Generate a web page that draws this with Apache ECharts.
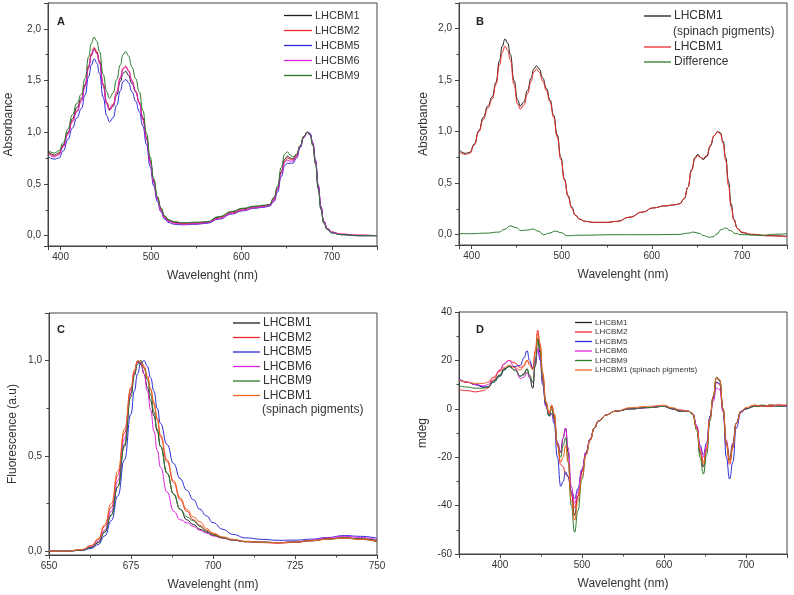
<!DOCTYPE html>
<html style="height: 100%">
<head>
  <meta charset="utf-8">
  <script src="https://cdn.jsdelivr.net/npm/echarts@6/dist/echarts.min.js"></script>
</head>
<body style="height: 100%; margin: 0; background: #fff">
  <div id="container" style="width: 794px; height: 595px"></div>
  <script type="text/javascript">
    // ---- panel A : absorption spectra ----
    var A_WL = [387, 393, 398, 403, 408, 413, 418, 423, 427, 431, 434, 437, 440, 443, 447, 451, 454, 458, 462, 466,
      469, 472, 475, 479, 483, 487, 491, 495, 499, 503, 507, 511, 515, 520, 526, 535, 550, 562, 575, 590,
      601, 615, 625, 631, 636, 640, 644, 648, 651, 654, 657, 661, 665, 669, 673, 676, 679, 682, 685, 688,
      691, 695, 700, 710, 730, 750];
    var A_M1 = [0.81, 0.78, 0.80, 0.88, 1.00, 1.13, 1.24, 1.33, 1.46, 1.64, 1.75, 1.81, 1.77, 1.68, 1.46, 1.28, 1.22, 1.25, 1.36, 1.49,
      1.57, 1.59, 1.55, 1.47, 1.39, 1.29, 1.14, 0.95, 0.73, 0.53, 0.37, 0.26, 0.19, 0.15, 0.13, 0.12, 0.125, 0.13, 0.18, 0.23,
      0.26, 0.28, 0.29, 0.30, 0.36, 0.46, 0.62, 0.74, 0.77, 0.75, 0.74, 0.78, 0.87, 0.96, 1.00, 0.98, 0.88, 0.70, 0.46, 0.26,
      0.13, 0.06, 0.03, 0.01, 0.0, 0.0];
    var A_M2 = [0.80, 0.77, 0.79, 0.87, 0.99, 1.11, 1.21, 1.31, 1.45, 1.64, 1.76, 1.82, 1.78, 1.69, 1.47, 1.29, 1.23, 1.27, 1.39, 1.53,
      1.62, 1.64, 1.60, 1.50, 1.40, 1.29, 1.13, 0.94, 0.72, 0.52, 0.36, 0.25, 0.18, 0.14, 0.125, 0.115, 0.12, 0.13, 0.17, 0.22,
      0.25, 0.275, 0.285, 0.295, 0.35, 0.45, 0.61, 0.72, 0.75, 0.74, 0.73, 0.77, 0.86, 0.96, 1.00, 0.98, 0.89, 0.72, 0.48, 0.28,
      0.14, 0.07, 0.035, 0.015, 0.005, 0.0];
    var A_M5 = [0.76, 0.74, 0.75, 0.82, 0.93, 1.04, 1.14, 1.23, 1.36, 1.54, 1.65, 1.71, 1.67, 1.57, 1.34, 1.16, 1.10, 1.14, 1.26, 1.40,
      1.49, 1.51, 1.48, 1.39, 1.30, 1.20, 1.06, 0.88, 0.67, 0.48, 0.33, 0.23, 0.16, 0.125, 0.11, 0.105, 0.11, 0.12, 0.16, 0.21,
      0.24, 0.265, 0.275, 0.285, 0.33, 0.42, 0.57, 0.68, 0.70, 0.70, 0.70, 0.75, 0.85, 0.95, 1.00, 0.99, 0.90, 0.73, 0.49, 0.28,
      0.14, 0.07, 0.03, 0.01, 0.0, 0.0];
    var A_M6 = [0.79, 0.76, 0.78, 0.86, 0.98, 1.10, 1.20, 1.30, 1.44, 1.62, 1.74, 1.80, 1.76, 1.67, 1.45, 1.27, 1.21, 1.26, 1.38, 1.52,
      1.61, 1.63, 1.59, 1.49, 1.39, 1.28, 1.12, 0.93, 0.71, 0.51, 0.35, 0.24, 0.17, 0.135, 0.12, 0.11, 0.115, 0.125, 0.165, 0.215,
      0.245, 0.27, 0.28, 0.29, 0.34, 0.44, 0.60, 0.71, 0.73, 0.72, 0.72, 0.76, 0.86, 0.95, 1.00, 0.98, 0.89, 0.72, 0.48, 0.28,
      0.14, 0.07, 0.035, 0.015, 0.005, 0.0];
    var A_M9 = [0.82, 0.80, 0.82, 0.90, 1.03, 1.17, 1.28, 1.37, 1.52, 1.73, 1.86, 1.92, 1.88, 1.78, 1.56, 1.39, 1.33, 1.38, 1.51, 1.65,
      1.75, 1.78, 1.74, 1.63, 1.52, 1.39, 1.21, 0.99, 0.76, 0.55, 0.38, 0.27, 0.19, 0.15, 0.135, 0.125, 0.13, 0.135, 0.185, 0.235,
      0.265, 0.285, 0.295, 0.30, 0.37, 0.48, 0.66, 0.79, 0.81, 0.78, 0.76, 0.79, 0.87, 0.96, 1.00, 0.97, 0.87, 0.69, 0.45, 0.25,
      0.12, 0.06, 0.025, 0.01, 0.0, 0.0];

    // ---- panel B : spinach pigments vs LHCBM1 (same wavelengths as A) ----
    var B_SPIN = [0.82, 0.79, 0.80, 0.88, 1.01, 1.14, 1.25, 1.34, 1.48, 1.69, 1.83, 1.90, 1.86, 1.75, 1.50, 1.31, 1.25, 1.29, 1.40, 1.52,
      1.61, 1.64, 1.61, 1.52, 1.42, 1.31, 1.16, 0.97, 0.75, 0.54, 0.38, 0.27, 0.19, 0.15, 0.13, 0.12, 0.12, 0.13, 0.17, 0.22,
      0.26, 0.28, 0.29, 0.30, 0.35, 0.46, 0.63, 0.75, 0.78, 0.75, 0.73, 0.76, 0.86, 0.96, 1.00, 0.99, 0.91, 0.75, 0.52, 0.30,
      0.15, 0.06, 0.02, 0.0, -0.01, -0.015];
    var B_M1 = [0.80, 0.78, 0.79, 0.87, 1.00, 1.12, 1.23, 1.32, 1.46, 1.65, 1.77, 1.83, 1.79, 1.70, 1.46, 1.27, 1.22, 1.26, 1.37, 1.49,
      1.58, 1.61, 1.58, 1.49, 1.40, 1.29, 1.14, 0.95, 0.73, 0.53, 0.37, 0.26, 0.19, 0.15, 0.13, 0.12, 0.12, 0.13, 0.17, 0.22,
      0.26, 0.28, 0.29, 0.30, 0.35, 0.46, 0.62, 0.74, 0.77, 0.75, 0.74, 0.77, 0.87, 0.96, 1.00, 0.98, 0.89, 0.72, 0.48, 0.27,
      0.14, 0.06, 0.025, 0.005, -0.01, -0.02];
    var DIFF_WL = [387, 400, 415, 430, 436, 443, 449, 455, 462, 468, 474, 480, 486, 493, 499, 506, 520, 560, 600, 630,
      640, 646, 652, 658, 664, 668, 672, 677, 682, 687, 693, 700, 720, 740, 750];
    var DIFF = [0.01, 0.01, 0.015, 0.025, 0.05, 0.085, 0.07, 0.04, 0.045, 0.055, 0.035, 0.0, 0.015, 0.035, 0.02, -0.01, -0.005, 0.0, 0.0, 0.003,
      0.015, 0.025, 0.015, -0.01, -0.025, -0.02, 0.005, 0.05, 0.065, 0.04, 0.01, 0.0, -0.005, 0.005, 0.01];

    // ---- panel C : fluorescence ----
    var C_WL = [650, 655, 660, 663, 665, 667, 669, 671, 673, 675, 676, 677, 678, 679, 680, 681, 682, 683, 684, 686,
      688, 690, 692, 694, 696, 698, 700, 703, 706, 710, 715, 720, 725, 730, 735, 740, 745, 750];
    var C_M1 = [0.0, 0.0, 0.005, 0.02, 0.045, 0.10, 0.19, 0.34, 0.55, 0.83, 0.93, 1.0, 0.98, 0.93, 0.86, 0.79, 0.71, 0.63, 0.55, 0.41,
      0.30, 0.22, 0.165, 0.14, 0.115, 0.10, 0.085, 0.07, 0.06, 0.05, 0.048, 0.045, 0.048, 0.055, 0.065, 0.07, 0.063, 0.05];
    var C_M2 = [0.0, 0.0, 0.008, 0.03, 0.06, 0.13, 0.23, 0.40, 0.62, 0.85, 0.94, 0.99, 1.0, 0.97, 0.92, 0.85, 0.77, 0.69, 0.60, 0.47,
      0.36, 0.27, 0.21, 0.165, 0.135, 0.11, 0.09, 0.07, 0.058, 0.05, 0.045, 0.042, 0.046, 0.055, 0.065, 0.07, 0.065, 0.055];
    var C_M5 = [0.0, 0.0, 0.004, 0.015, 0.035, 0.08, 0.16, 0.29, 0.48, 0.72, 0.84, 0.93, 0.99, 1.0, 0.97, 0.91, 0.84, 0.75, 0.67, 0.56,
      0.46, 0.38, 0.32, 0.27, 0.22, 0.185, 0.15, 0.115, 0.088, 0.07, 0.062, 0.057, 0.058, 0.063, 0.072, 0.082, 0.078, 0.068];
    var C_M6 = [0.0, 0.0, 0.006, 0.025, 0.05, 0.11, 0.21, 0.37, 0.59, 0.83, 0.93, 0.99, 0.99, 0.93, 0.84, 0.74, 0.63, 0.53, 0.44, 0.31,
      0.21, 0.165, 0.15, 0.13, 0.11, 0.095, 0.08, 0.068, 0.058, 0.05, 0.046, 0.045, 0.05, 0.058, 0.07, 0.078, 0.072, 0.06];
    var C_M9 = [0.0, 0.0, 0.005, 0.02, 0.045, 0.10, 0.19, 0.34, 0.56, 0.81, 0.92, 0.98, 1.0, 0.96, 0.90, 0.82, 0.73, 0.64, 0.55, 0.41,
      0.30, 0.22, 0.18, 0.16, 0.13, 0.105, 0.085, 0.07, 0.058, 0.05, 0.047, 0.045, 0.048, 0.055, 0.063, 0.07, 0.065, 0.055];
    var C_SPIN = [0.0, 0.0, 0.008, 0.03, 0.065, 0.14, 0.25, 0.42, 0.64, 0.86, 0.95, 1.0, 0.99, 0.96, 0.91, 0.85, 0.78, 0.70, 0.61, 0.48,
      0.37, 0.28, 0.22, 0.18, 0.155, 0.12, 0.095, 0.075, 0.062, 0.052, 0.047, 0.045, 0.048, 0.055, 0.063, 0.068, 0.062, 0.05];

    // ---- panel D : circular dichroism ----
    var D_WL = [350, 360, 370, 380, 385, 392, 400, 405, 411, 418, 425, 429, 433, 436, 440, 443, 446, 449, 452, 456,
      460, 463, 466, 470, 474, 477, 480, 483, 487, 491, 495, 500, 505, 510, 515, 520, 530, 540, 560, 580,
      600, 610, 620, 630, 635, 640, 644, 648, 652, 656, 660, 664, 668, 672, 676, 680, 684, 688, 694, 700,
      710, 720, 730, 740, 750];
    var D_M1 = [12, 11, 10, 9, 9, 11.5, 14, 16.5, 17.5, 16, 13.5, 14.5, 16.5, 13, 8.5, 18, 29, 23, 12, 2,
      -3, 1, -3, -14, -18, -12, -8, -18, -35, -44, -36, -26, -18, -12.5, -8, -5, -2.5, -1, 0, 0.5,
      1, 0, -1, -1, -2, -8, -18, -24, -17, -4, 5, 13, 11.5, 0, -14, -21, -15, -6, -1, 0,
      1, 1.5, 1, 1.5, 1];
    var D_M2 = [8, 7.5, 7, 7.5, 8.5, 12, 16, 18.5, 20, 19, 17, 18, 20, 19, 17, 24, 32.5, 26, 14, 3,
      -2, 1.5, -2, -15, -23, -24, -27, -28, -35, -41, -36, -26, -18, -12.5, -8, -5, -2.5, -1, 0, 0.5,
      1, 0, -1, -1, -2, -8, -17, -22, -16, -4, 4, 11, 10, -1, -15, -23, -16, -6, -1, 0,
      1.5, 1, 1, 1.5, 1.5];
    var D_M5 = [12.5, 11, 10, 9, 9, 11, 13.5, 16, 17.5, 17.5, 18, 21, 24, 20, 16.5, 20, 24.5, 20, 10, 1,
      -3, -2, -6, -20, -32, -30, -26, -28, -34, -37, -33, -25, -18, -12.5, -8, -5, -2.5, -1, 0, 0.5,
      1, 0, -1, -1, -2, -7, -15, -19, -14, -3, 4, 11, 10.5, -1, -20, -29, -22, -8, -1.5, 0,
      1, 1, 1.5, 1, 1];
    var D_M6 = [12, 11, 10, 9.5, 10, 13, 16, 18.5, 20, 17, 12.5, 13, 15, 13, 11, 18, 25, 21, 11, 1,
      -2, -2, -5, -14, -18, -12, -8, -16, -32, -39, -34, -25, -18, -12.5, -8, -5, -2.5, -1, 0, 0.5,
      1, 0, -0.5, -1, -2, -7, -16, -20, -15, -4, 3, 8.5, 8, -1, -13, -20, -14, -6, -1, 0,
      1, 1, 1.5, 1.5, 1];
    var D_M9 = [9.5, 9, 8.5, 8.5, 9, 11, 13.5, 16, 17.5, 16, 13.5, 14, 16.5, 14, 11, 18, 29, 24, 12, 2,
      -3, 0, -4, -15, -20, -15, -12, -22, -40, -51, -42, -29, -19, -13, -8, -5, -2.5, -1, 0, 0.5,
      1, 0, -1, -1, -2.5, -9, -20, -27, -19, -5, 5, 13, 12, 0, -14, -21, -15, -6, -1, 0,
      1, 1, 1.5, 1, 1.5];
    var D_SPIN = [12, 11, 10.5, 10.5, 11, 13, 15.5, 17, 18, 17, 16, 17.5, 20, 18, 16, 23, 31, 27, 15, 3,
      -2, 1.5, -2, -15, -22, -20, -15, -22, -38, -46, -38, -28, -19, -13, -8, -5, -2.5, -1, 0.5, 1,
      1.5, 0.5, -0.5, -1, -2, -8, -17, -23, -17, -4, 5, 13, 12, 0, -14, -22, -16, -6, -1, 0.5,
      1.5, 1, 1.5, 1.5, 1.5];

    var COL = {
      black: '#1e1e1e', red: '#ee2a2a', blue: '#2b2bd6', magenta: '#dd22dd', green: '#2a7a2a', orange: '#ee6622'
    };
    var FONT = '"Liberation Sans", Arial, sans-serif';
    var AX = '#444';

    var dom = document.getElementById("container");
    var myChart = echarts.init(dom, null, { renderer: 'canvas' });

    function pairs(wl, vals) {
      return wl.map(function (x, i) { return [x, vals[i]]; });
    }

    function line(name, gi, wl, vals, color) {
      return {
        name: name,
        type: 'line',
        xAxisIndex: gi,
        yAxisIndex: gi,
        data: pairs(wl, vals),
        showSymbol: false,
        symbol: 'none',
        smooth: 0.5,
        smoothMonotone: 'x',
        animation: false,
        lineStyle: { color: color, width: 1 },
        itemStyle: { color: color }
      };
    }

    // 一位小数、逗号作小数点；非 0.5 的倍数（轴两端）不显示
    function commaLabel(v) {
      if (Math.abs(v * 2 - Math.round(v * 2)) > 1e-6) return '';
      return v.toFixed(1).replace('.', ',');
    }
    function hundredLabel(v) {
      return (Math.abs(v % 100) < 1e-6) ? String(v) : '';
    }

    function xAxis(gi, min, max, fmt, interval) {
      var a = {
        type: 'value', gridIndex: gi, min: min, max: max,
        name: 'Wavelenght (nm)', nameLocation: 'middle', nameGap: 24,
        nameTextStyle: { fontSize: 12, color: '#333', fontFamily: FONT },
        axisLine: { show: true, onZero: false, lineStyle: { color: AX } },
        axisTick: { show: true, length: 4, lineStyle: { color: AX } },
        minorTick: { show: true, splitNumber: 2, length: 2.5, lineStyle: { color: AX } },
        axisLabel: { fontSize: 10, color: '#333', margin: 6, fontFamily: FONT, formatter: fmt },
        splitLine: { show: false }
      };
      if (interval) a.interval = interval;
      return a;
    }
    function yAxis(gi, min, max, name, gap, fmt, extra) {
      var a = {
        type: 'value', gridIndex: gi, min: min, max: max,
        name: name, nameLocation: 'middle', nameGap: gap,
        nameTextStyle: { fontSize: 12, color: '#333', fontFamily: FONT },
        axisLine: { show: true, onZero: false, lineStyle: { color: AX } },
        axisTick: { show: true, length: 4, lineStyle: { color: AX } },
        minorTick: { show: true, splitNumber: 2, length: 2.5, lineStyle: { color: AX } },
        axisLabel: { fontSize: 10, color: '#333', margin: 7, fontFamily: FONT, formatter: fmt },
        splitLine: { show: false }
      };
      for (var k in extra) a[k] = extra[k];
      return a;
    }

    function legend(top, left, names, size, lh, gap, w, fmt) {
      return {
        orient: 'vertical', top: top, left: left, padding: 0,
        data: names, icon: 'rect', itemWidth: w, itemHeight: 1.3, itemGap: gap,
        selectedMode: false,
        textStyle: { fontSize: size, lineHeight: lh, color: '#333', fontFamily: FONT, padding: [0, 0, 0, -2] },
        formatter: fmt
      };
    }
    var strip = function (n) { return n.slice(2); };
    var stripSpin = function (n) { return n.slice(2).replace(' (spinach pigments)', ''); };

    var gridStyle = { show: true, borderColor: AX, borderWidth: 1, backgroundColor: 'transparent' };
    function grid(left, top, width, height) {
      return Object.assign({ left: left, top: top, width: width, height: height }, gridStyle);
    }

    var option = {
      animation: false,
      backgroundColor: '#fff',
      textStyle: { fontFamily: FONT },
      grid: [
        grid(48, 3, 329, 243),
        grid(459, 3, 328, 242),
        grid(49, 313, 328, 242),
        grid(459, 312, 328, 242)
      ],
      xAxis: [
        xAxis(0, 386, 750, hundredLabel),
        xAxis(1, 386, 750, hundredLabel),
        xAxis(2, 650, 750, null, 25),
        xAxis(3, 350, 750, hundredLabel)
      ],
      yAxis: [
        yAxis(0, -0.1, 2.25, 'Absorbance', 33, commaLabel, {}),
        yAxis(1, -0.1, 2.25, 'Absorbance', 29, commaLabel, {}),
        yAxis(2, -0.02, 1.25, 'Fluorescence (a.u)', 30, commaLabel, { splitNumber: 3 }),
        yAxis(3, -60, 40, 'mdeg', 30, null, { interval: 20 })
      ],
      legend: [
        legend(10, 284, ['A LHCBM1', 'A LHCBM2', 'A LHCBM5', 'A LHCBM6', 'A LHCBM9'], 11, 11, 4, 28, strip),
        legend(10, 644, ['B LHCBM1 (spinach pigments)'], 12, 12, 3, 27, stripSpin),
        legend(41, 644, ['B LHCBM1', 'B Difference'], 12, 12, 3, 27, strip),
        legend(317, 233, ['C LHCBM1', 'C LHCBM2', 'C LHCBM5', 'C LHCBM6', 'C LHCBM9', 'C LHCBM1 (spinach pigments)'],
          12, 12, 2.5, 27, stripSpin),
        legend(318.5, 575, ['D LHCBM1', 'D LHCBM2', 'D LHCBM5', 'D LHCBM6', 'D LHCBM9', 'D LHCBM1 (spinach pigments)'],
          8, 8, 1.5, 17, strip)
      ],
      graphic: [
        { type: 'text', left: 57, top: 16, style: { text: 'A', font: 'bold 11px ' + FONT, fill: '#222' } },
        { type: 'text', left: 476, top: 16, style: { text: 'B', font: 'bold 11px ' + FONT, fill: '#222' } },
        { type: 'text', left: 57, top: 324, style: { text: 'C', font: 'bold 11px ' + FONT, fill: '#222' } },
        { type: 'text', left: 476, top: 324, style: { text: 'D', font: 'bold 11px ' + FONT, fill: '#222' } },
        { type: 'text', left: 673, top: 26, style: { text: '(spinach pigments)', font: '12px ' + FONT, fill: '#333' } },
        { type: 'text', left: 262, top: 404, style: { text: '(spinach pigments)', font: '12px ' + FONT, fill: '#333' } }
      ],
      series: [
        line('A LHCBM1', 0, A_WL, A_M1, COL.black),
        line('A LHCBM2', 0, A_WL, A_M2, COL.red),
        line('A LHCBM5', 0, A_WL, A_M5, COL.blue),
        line('A LHCBM6', 0, A_WL, A_M6, COL.magenta),
        line('A LHCBM9', 0, A_WL, A_M9, COL.green),

        line('B LHCBM1 (spinach pigments)', 1, A_WL, B_SPIN, COL.black),
        line('B LHCBM1', 1, A_WL, B_M1, COL.red),
        line('B Difference', 1, DIFF_WL, DIFF, COL.green),

        line('C LHCBM1', 2, C_WL, C_M1, COL.black),
        line('C LHCBM2', 2, C_WL, C_M2, COL.red),
        line('C LHCBM5', 2, C_WL, C_M5, COL.blue),
        line('C LHCBM6', 2, C_WL, C_M6, COL.magenta),
        line('C LHCBM9', 2, C_WL, C_M9, COL.green),
        line('C LHCBM1 (spinach pigments)', 2, C_WL, C_SPIN, COL.orange),

        line('D LHCBM1', 3, D_WL, D_M1, COL.black),
        line('D LHCBM2', 3, D_WL, D_M2, COL.red),
        line('D LHCBM5', 3, D_WL, D_M5, COL.blue),
        line('D LHCBM6', 3, D_WL, D_M6, COL.magenta),
        line('D LHCBM9', 3, D_WL, D_M9, COL.green),
        line('D LHCBM1 (spinach pigments)', 3, D_WL, D_SPIN, COL.orange)
      ]
    };
    if (option && typeof option === "object") {
      myChart.setOption(option, true);
    }
  </script>
</body>
</html>
